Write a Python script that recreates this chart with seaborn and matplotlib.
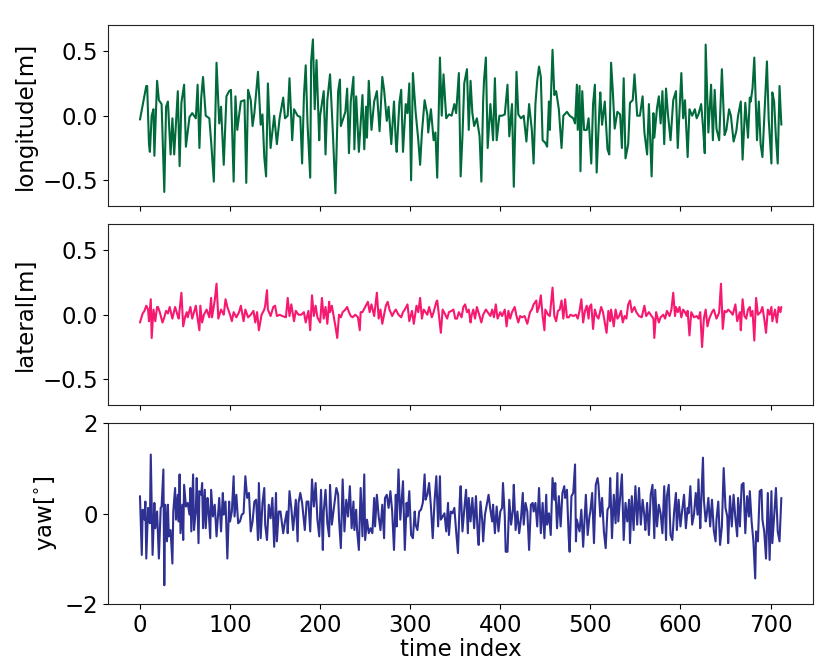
import matplotlib
matplotlib.use("Agg")
import matplotlib.pyplot as plt
import seaborn as sns
import pandas as pd

# (time index, value)
longitude = [(0,-0.03),(7,0.23),(8,0.23),(10,-0.22),(11,-0.28),(13,0.0),(15,0.05),(16,-0.31),(19,0.27),(21,0.12),(24,0.09),(27,-0.59),(29,0.07),(31,0.11),(34,-0.30),(36,-0.02),(38,-0.30),(42,0.19),(44,-0.39),(46,0.10),(49,0.24),(51,-0.24),(55,-0.01),(58,0.02),(62,-0.02),(64,0.24),(66,-0.25),(68,0.14),(70,0.30),(73,0.0),(77,-0.02),(79,-0.20),(82,-0.51),(85,0.41),(88,-0.06),(90,0.07),(93,-0.38),(96,0.15),(99,0.19),(101,0.20),(104,-0.51),(106,0.15),(108,-0.11),(112,0.11),(116,0.12),(118,-0.52),(120,0.20),(123,0.12),(125,-0.08),(127,0.02),(131,0.34),(134,-0.07),(136,0.01),(138,-0.32),(140,-0.47),(142,0.25),(145,-0.25),(149,0.0),(152,-0.22),(155,-0.02),(159,0.14),(161,-0.02),(164,0.0),(166,0.29),(169,-0.19),(171,0.05),(175,0.0),(178,-0.01),(180,-0.37),(182,0.15),(184,0.39),(186,-0.06),(189,-0.48),(190,0.42),(192,0.59),(194,0.05),(196,0.43),(199,-0.19),(200,0.0),(204,0.19),(206,-0.30),(208,0.12),(211,0.32),(214,-0.11),(217,-0.60),(220,0.19),(222,0.28),(223,-0.08),(228,0.03),(230,0.21),(232,-0.29),
    (234,0.11),(237,0.30),(238,-0.26),(240,0.15),(243,-0.28),(247,0.16),(249,-0.26),(251,0.07),(252,-0.17),(254,0.27),(257,-0.11),(260,0.11),(263,0.19),(266,-0.12),(269,0.30),(271,0.20),(274,-0.04),(276,0.07),(279,-0.22),(282,0.11),(284,-0.20),(285,-0.28),(288,0.10),(290,0.20),(292,-0.28),(295,0.09),(297,0.02),(299,0.25),(301,-0.50),(303,0.33),(306,0.03),(309,-0.19),(311,-0.38),(313,-0.13),(316,0.12),(319,0.01),(320,-0.13),(323,0.05),(326,-0.19),(328,-0.13),(330,-0.48),(333,0.45),(335,0.0),(337,0.32),(340,-0.02),(343,0.01),(346,0.0),(349,0.09),(351,0.02),(354,0.33),(356,-0.47),(358,-0.16),(360,0.25),(363,0.36),(365,-0.11),(367,0.27),(369,0.02),(371,-0.08),(374,-0.02),(377,-0.16),(379,-0.51),(381,0.12),(382,0.28),(384,0.45),(386,-0.25),(389,0.09),(392,-0.19),(394,0.29),(396,-0.19),(399,0.0),(402,0.0),(405,0.01),(408,0.24),(410,-0.16),(413,0.09),(415,-0.55),(418,0.34),(420,0.01),(423,-0.02),(426,0.0),(429,-0.20),(432,0.09),(435,-0.11),(437,-0.37),(439,0.09),(441,0.27),(443,0.38),(445,0.30),(447,-0.19),(450,-0.21),(452,-0.24),(454,0.11),(455,-0.11),(458,0.51),(460,0.16),(462,0.19),(465,0.05),(468,-0.25),(470,0.0),(474,0.03),
    (477,0.0),(481,-0.02),(483,-0.06),(485,0.24),(486,-0.11),(488,0.23),(489,-0.43),(491,0.19),(493,-0.11),(496,-0.11),(498,-0.02),(499,-0.13),(501,-0.37),(503,0.09),(505,0.24),(507,-0.44),(510,0.05),(511,0.18),(513,-0.07),(516,0.11),(519,-0.26),(521,-0.30),(523,0.41),(525,0.18),(527,-0.10),(530,0.03),(533,0.01),(535,-0.25),(537,0.29),(539,-0.33),(542,-0.22),(544,0.10),(547,0.12),(549,0.32),(552,0.0),(555,0.0),(558,0.15),(560,-0.13),(563,-0.30),(565,0.09),(568,-0.47),(570,0.02),(571,-0.17),(574,0.06),(576,0.15),(578,-0.06),(580,0.19),(582,-0.22),(584,0.21),(586,0.02),(589,-0.19),(592,0.12),(595,0.19),(597,-0.25),(601,0.33),(603,-0.02),(605,0.12),(608,-0.32),(610,0.05),(613,0.0),(616,0.05),(618,-0.02),(620,0.01),(623,0.09),(625,-0.08),(627,-0.29),(628,0.55),(630,0.09),(631,-0.13),(634,0.24),(636,-0.19),(638,0.20),(640,-0.10),(643,-0.19),(646,0.36),(649,-0.15),(651,-0.11),(654,0.05),(656,0.0),(659,-0.20),(662,-0.12),(664,0.0),(667,0.11),(669,-0.34),(672,0.10),(675,-0.17),(677,0.14),(678,0.11),(680,0.21),(682,0.45),(685,-0.19),(687,0.11),(689,-0.22),(691,-0.32),(693,-0.03),(696,0.42),(698,-0.03),(701,-0.37),(702,0.18),(704,0.11),(706,-0.17),(708,-0.37),(710,0.23),(712,-0.07)]

lateral = [(0,-0.06),(3,0.01),(5,0.03),(7,0.07),(9,0.04),(10,-0.05),(12,0.12),(13,-0.18),(15,0.04),(17,-0.05),(19,0.06),(20,0.06),(22,0.02),(25,-0.06),(27,-0.02),(29,0.03),(31,0.01),(33,0.06),(36,-0.03),(39,0.06),(42,-0.01),(43,-0.03),(46,0.17),(48,-0.09),(50,-0.02),(52,0.02),(53,-0.02),(56,0.06),(58,-0.03),(60,0.02),(62,0.07),(64,-0.03),(66,-0.12),(67,0.07),(69,-0.06),(71,0.0),(74,0.04),(77,-0.02),(79,0.13),(80,-0.02),(83,0.11),(85,0.24),(87,-0.03),(90,0.04),(93,0.0),(95,0.12),(97,0.06),(100,0.0),(102,-0.05),(104,0.02),(107,-0.02),(110,0.02),(112,0.07),(115,-0.05),(117,0.04),(120,-0.02),(123,0.0),(126,0.03),(128,-0.06),(130,0.02),(132,-0.12),(135,0.0),(138,0.04),(139,0.07),(141,0.19),(142,0.04),(145,-0.01),(148,0.06),(150,0.07),(152,-0.01),(155,0.0),(158,-0.01),(162,-0.02),(164,0.13),(166,-0.01),(168,0.08),(171,-0.05),(173,0.03),(176,0.0),(179,0.0),(182,0.02),(184,-0.06),(187,0.03),(189,-0.12),(191,0.15),(193,-0.01),(195,0.07),(197,-0.02),(200,-0.06),(202,0.13),(204,-0.03),(206,0.06),(208,-0.07),(210,0.10),(211,0.02),(213,0.07),(215,-0.01),(217,-0.09),(219,-0.18),(221,0.0),(223,-0.02),(225,0.02),(228,0.04),(230,0.06),(232,0.02),(234,-0.01),(236,-0.02),(239,0.0),(242,-0.02),(244,-0.12),(245,0.02),(247,0.02),(250,0.06),(253,0.10),(255,0.02),(257,0.08),(260,-0.01),(263,0.17),(265,-0.03),(267,0.04),(269,-0.07),(271,0.0),(273,0.07),(275,0.10),(277,0.04),(280,-0.01),(282,0.02),(284,0.04),(287,0.0),(290,-0.02),(292,0.02),(294,0.04),(297,0.08),(299,-0.05),(302,0.03),(304,-0.07),(307,0.07),(309,0.02),(311,0.13),(313,-0.03),(315,0.04),(317,0.02),(319,0.0),(321,0.06),(324,-0.02),(326,0.02),(329,0.10),(330,0.11),(332,-0.01),(334,-0.14),(336,0.04),(339,0.0),(341,-0.03),(343,0.02),(346,0.03),(348,0.04),
    (350,-0.03),(352,-0.03),(354,0.02),(357,-0.02),(359,0.06),(361,0.08),(363,0.02),(365,0.04),(367,-0.06),(368,-0.01),(370,0.04),(372,-0.03),(374,0.06),(377,-0.01),(379,-0.06),(381,0.0),(384,0.04),(386,0.02),(389,-0.01),(391,0.04),(393,-0.02),(395,0.08),(397,-0.03),(400,0.02),(402,-0.01),(405,0.04),(407,-0.09),(409,0.03),(411,-0.03),(413,0.02),(416,0.06),(418,-0.01),(420,-0.06),(422,-0.01),(424,-0.02),(427,-0.01),(430,-0.07),(433,0.02),(435,0.04),(437,0.08),(440,0.11),(441,0.02),(443,0.06),(445,0.15),(447,-0.01),(449,-0.12),(450,0.04),(453,0.0),(455,-0.01),(458,0.21),(460,-0.01),(462,-0.05),(464,0.03),(466,0.04),(468,0.11),(470,-0.03),(472,0.12),(474,-0.02),(476,-0.02),(478,0.0),(481,-0.01),(484,0.0),(486,-0.03),(488,0.03),(490,0.12),(492,-0.06),(494,0.03),(496,0.07),(498,-0.03),(499,0.06),(501,0.08),(503,-0.11),(505,0.04),(507,-0.01),(509,-0.03),(512,0.06),(514,0.02),(516,-0.06),(518,-0.14),(520,0.03),(522,-0.05),(523,0.04),(526,-0.09),(528,0.04),(530,-0.03),(532,-0.01),(534,0.03),(536,-0.06),(538,-0.01),(540,-0.03),(542,0.08),(544,0.11),(546,0.02),(549,0.06),(551,0.02),(554,-0.01),(557,-0.02),(559,0.04),(560,0.07),(562,-0.01),(565,0.02),(568,-0.01),(570,-0.03),(571,-0.18),(573,0.02),(576,-0.06),(578,-0.02),(581,0.0),(583,-0.03),(585,0.03),(588,-0.01),(590,0.04),(592,0.17),(594,-0.01),(595,0.06),(597,0.02),(599,0.06),(601,-0.02),(603,0.04),(605,0.02),(607,-0.01),(608,0.03),(610,-0.16),(612,0.02),(615,-0.02),(618,-0.01),(620,-0.03),(622,0.02),(624,-0.25),(626,-0.03),(628,0.04),(630,-0.09),(632,-0.03),(635,0.02),(637,0.04),(640,-0.03),(642,0.0),(643,0.02),(645,0.24),(647,-0.11),(649,0.03),(651,0.02),(653,0.04),(656,0.02),(658,0.0),(661,0.08),(663,-0.05),(666,0.02),(667,-0.12),(669,0.12),(671,-0.01),(673,-0.03),(675,0.04),(677,0.06),(678,-0.01),(680,0.03),(682,-0.20),(684,0.13),(686,0.0),(689,0.02),(691,0.06),(693,-0.03),(695,-0.14),(697,0.04),(699,0.0),(701,0.06),(702,-0.05),(705,0.04),(707,-0.06),(709,0.06),(711,0.02),(712,0.06)]

yaw = [(0,0.39),(2,-0.91),(3,0.09),(5,-0.13),(6,0.27),(7,-0.99),(9,0.13),(11,-0.21),(12,1.31),(14,-0.91),(16,0.24),(17,-0.32),(19,0.05),(20,-0.47),(21,-0.99),(23,0.13),(24,0.16),(26,0.98),(27,-1.58),(28,0.20),(30,-0.61),(31,0.20),(32,-0.50),(34,-0.36),(36,-1.10),(37,0.05),(39,0.57),(40,-0.13),(42,0.42),(43,-0.17),(44,0.87),(45,-0.43),(47,0.20),(48,-0.58),(49,0.64),(51,0.16),(53,0.24),(55,-0.02),(56,0.57),(57,-0.39),(59,0.87),(60,-0.36),(62,0.09),(63,0.79),(65,-0.65),(66,0.50),(68,0.42),(69,0.68),(70,-0.32),(72,0.53),(73,-0.32),(75,0.35),(76,0.13),(78,-0.54),(79,0.53),(81,-0.06),(83,0.20),(85,-0.50),(87,0.05),(88,0.35),(90,-0.39),(92,0.46),(93,-0.02),(95,0.27),(97,-0.99),(99,0.27),(100,-0.17),(102,0.05),(104,0.83),(105,-0.06),(107,0.42),(109,-0.21),(111,-0.17),(113,-0.02),(115,0.01),(117,0.83),(119,0.35),(121,0.46),(123,-0.39),(125,-0.17),(127,0.27),(129,0.31),(131,-0.58),(132,0.68),(134,-0.54),(136,0.24),(138,0.57),(139,-0.24),(141,-0.58),(143,0.20),(145,-0.10),(147,0.35),(149,-0.73),(151,0.46),(152,-0.61),(154,0.05),(156,0.05),(159,-0.43),(161,-0.17),(163,0.05),(164,-0.43),(166,0.50),(168,0.13),(170,-0.36),(173,0.31),(175,-0.61),(176,0.24),(178,0.46),(180,0.24),(183,-0.36),(185,0.27),(187,0.27),(189,-0.39),(191,0.76),(193,0.16),(195,0.68),(197,-0.13),(199,-0.50),(201,0.53),(203,-0.80),(204,0.05),(206,0.53),(208,-0.21),(210,-0.50),(211,0.64),(213,-0.24),(215,0.09),(218,0.57),(220,0.42),(221,-0.13),(223,-0.76),(225,0.76),(227,-0.39),(229,0.31),(231,-0.06),(233,0.61),
    (235,-0.32),(237,0.27),(238,-0.36),(240,0.09),(241,-0.36),(243,-0.80),(245,0.57),(247,-0.50),(249,0.87),(250,-0.58),(252,-0.13),(254,-0.43),(256,-0.32),(258,-0.43),(260,0.35),(261,-0.28),(263,0.42),(265,-0.06),(267,-0.36),(269,0.20),(271,-0.54),(272,0.35),(274,0.42),(276,0.13),(278,0.50),(280,0.05),(282,-0.80),(284,0.42),(285,-0.28),(287,0.98),(289,-0.13),(291,0.42),(292,0.72),(294,-0.80),(296,0.24),(297,-0.06),(299,0.50),(301,-0.47),(303,-0.54),(305,0.05),(306,-0.24),(308,-0.36),(310,0.05),(312,0.09),(314,0.24),(316,0.87),(317,0.31),(319,0.42),(321,0.68),(323,0.16),(325,-0.54),(327,0.27),(329,0.83),(331,-0.28),(333,0.83),(334,-0.13),(336,-0.06),(338,0.01),(340,-0.39),(342,0.24),(343,-0.47),(345,0.05),(347,0.01),(349,0.13),(351,-0.39),(353,-0.87),(355,0.31),(356,0.61),(358,-0.39),(360,0.09),(362,0.53),(364,-0.43),(365,0.35),(367,-0.17),(369,0.35),(371,-0.32),(373,0.39),(375,-0.47),(376,-0.69),(378,0.27),(380,-0.17),(381,-0.61),(383,-0.02),(385,0.20),(387,0.42),(389,0.09),(391,-0.17),(392,0.20),(394,-0.43),(396,0.16),(398,-0.39),(400,0.05),(402,0.13),(403,0.68),(405,-0.06),(406,-0.84),(408,-0.84),(410,0.31),(412,-0.24),(414,0.09),(415,0.64),(417,-0.36),(419,0.05),(421,-0.43),(423,-0.10),(425,0.46),(426,-0.24),(428,0.24),(430,0.05),(432,-0.80),(434,0.20),(436,0.24),(437,0.05),(439,0.24),(441,-0.28),(443,0.57),(445,-0.43),(447,0.24),(449,-0.54),(451,0.42),(452,-0.24),(454,0.01),(456,-0.47),(458,0.79),(460,0.31),(461,0.68),(463,-0.32),(465,0.39),(467,-0.28),(469,0.46),(471,0.61),(472,0.35),(474,0.53),(476,-0.54),(477,-0.84),(479,0.39),(481,0.46),(483,1.09),
    (484,-0.61),(485,-0.13),(488,-0.39),(490,0.09),(492,-0.73),(495,0.42),(497,-0.47),(499,-0.06),(500,0.05),(502,0.46),(504,-0.65),(506,0.64),(508,0.79),(509,0.64),(511,-0.06),(513,0.35),(515,-0.39),(517,-0.76),(519,0.09),(521,0.16),(522,0.79),(524,-0.54),(526,0.42),(528,-0.21),(530,0.90),(531,-0.17),(533,0.35),(535,0.87),(537,-0.58),(539,0.24),(541,-0.17),(543,0.31),(544,-0.65),(546,0.39),(548,-0.36),(550,0.61),(552,-0.24),(554,0.57),(556,-0.24),(558,0.31),(560,-0.06),(561,-0.36),(563,0.24),(565,-0.47),(567,0.42),(569,0.64),(571,-0.54),(572,0.53),(574,-0.28),(576,0.20),(578,0.01),(580,-0.43),(582,0.61),(584,-0.58),(585,0.39),(587,0.64),(589,-0.47),(591,-0.58),(593,0.05),(595,0.46),(596,-0.36),(598,0.31),(600,-0.28),(602,0.09),(604,0.42),(606,-0.32),(608,0.13),(609,0.01),(611,0.61),(613,-0.24),(615,-0.02),(617,0.46),(619,-0.02),(620,0.76),(622,-0.32),(623,0.24),(625,1.24),(626,0.31),(628,-0.17),(629,-0.06),(631,0.35),(633,-0.28),(635,0.31),(637,-0.36),(639,-0.61),(640,-0.13),(642,0.27),(644,-0.69),(646,-0.28),(648,1.01),(650,0.13),(652,-0.06),(653,-0.65),(655,0.39),(657,-0.28),(659,0.42),(661,-0.10),(663,-0.50),(664,0.35),(666,-0.28),(668,0.64),(670,0.68),(672,-0.43),(674,0.39),(676,-0.06),(677,0.50),(679,-0.17),(681,-0.61),(683,-1.43),(684,-0.39),(686,-0.61),(688,0.50),(690,0.53),(691,-0.13),(693,-0.39),(695,-0.99),(697,0.46),(699,-1.02),(701,0.50),(702,-0.65),(704,-0.06),(706,0.57),(708,-0.39),(710,-0.61),(712,0.35)]

labels = ["longitude[m]", "lateral[m]", r"yaw[$^{\circ}$]"]
colors = ["#006a3b", "#f7186f", "#2e3192"]
ylims = [(-0.7, 0.7), (-0.7, 0.7), (-2, 2)]
yticks = [[-0.5, 0.0, 0.5], [-0.5, 0.0, 0.5], [-2, 0, 2]]
xticks = [0, 100, 200, 300, 400, 500, 600, 700]

sns.set_style("ticks")
plt.rcParams["font.family"] = ["DejaVu Sans"]
plt.rcParams["font.size"] = 16.5
plt.rcParams["text.color"] = "black"
plt.rcParams["axes.labelcolor"] = "black"
plt.rcParams["xtick.color"] = "black"
plt.rcParams["ytick.color"] = "black"
plt.rcParams["axes.edgecolor"] = "#222222"

fig, axes = plt.subplots(3, 1, figsize=(8.3, 6.64), dpi=100, sharex=True)
fig.subplots_adjust(left=0.13, right=0.98, top=0.962, bottom=0.09, hspace=0.1)

for ax, series, lab, col, yl, yt in zip(axes, [longitude, lateral, yaw], labels, colors, ylims, yticks):
    df = pd.DataFrame(series, columns=["t", "v"])
    sns.lineplot(data=df, x="t", y="v", ax=ax, color=col, linewidth=1.5, estimator=None)
    ax.set_ylim(*yl)
    ax.set_yticks(yt)
    ax.set_ylabel(lab, fontsize=16.5)
    ax.set_xlabel("")
    ax.tick_params(labelsize=16.5)

axes[2].set_xticks(xticks)
axes[2].set_xlabel("time index", fontsize=16.5, labelpad=1)

fig.savefig("out.png", dpi=100)
